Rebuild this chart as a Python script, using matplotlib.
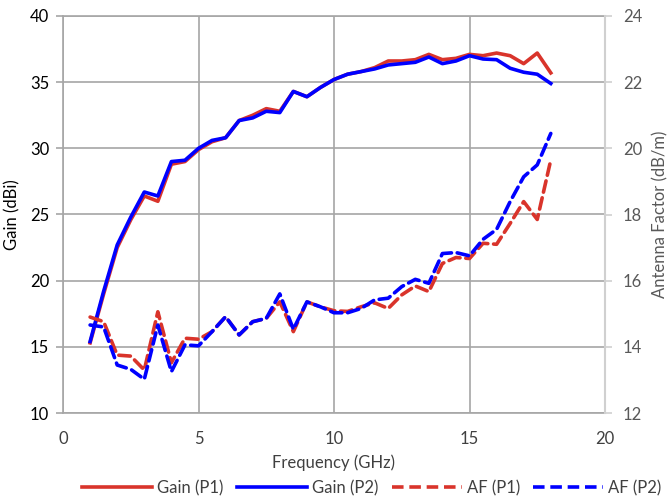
import matplotlib
matplotlib.use("Agg")
import matplotlib.pyplot as plt
from matplotlib.lines import Line2D

plt.rcParams['font.family'] = ['Lato', 'DejaVu Sans']

freq = [1, 1.5, 2, 2.5, 3, 3.5, 4, 4.5, 5, 5.5, 6, 6.5, 7, 7.5, 8, 8.5, 9, 9.5,
        10, 10.5, 11, 11.5, 12, 12.5, 13, 13.5, 14, 14.5, 15, 15.5, 16, 16.5, 17, 17.5, 18]

gain_p1 = [15.3, 19.0, 22.5, 24.6, 26.4, 26.0, 28.8, 29.0, 29.9, 30.5, 30.8, 32.1, 32.5, 33.0, 32.8, 34.3, 33.9, 34.6,
           35.2, 35.6, 35.8, 36.1, 36.6, 36.6, 36.7, 37.1, 36.7, 36.8, 37.1, 37.0, 37.2, 37.0, 36.4, 37.2, 35.7]
gain_p2 = [15.4, 19.2, 22.7, 24.8, 26.7, 26.4, 29.0, 29.1, 30.0, 30.6, 30.8, 32.1, 32.3, 32.8, 32.7, 34.3, 33.9, 34.6,
           35.2, 35.6, 35.8, 36.0, 36.3, 36.4, 36.5, 36.9, 36.4, 36.6, 37.0, 36.75, 36.7, 36.05, 35.75, 35.6, 34.9]

af_p1 = [14.9, 14.76, 13.75, 13.72, 13.3, 15.06, 13.52, 14.26, 14.23, 14.46, 14.91, 14.36, 14.76, 14.86, 15.36, 14.46, 15.36, 15.21,
         15.09, 15.07, 15.21, 15.33, 15.16, 15.57, 15.84, 15.67, 16.52, 16.7, 16.67, 17.13, 17.1, 17.73, 18.39, 17.85, 19.65]
af_p2 = [14.66, 14.6, 13.45, 13.32, 13.02, 14.66, 13.25, 14.06, 14.03, 14.46, 14.91, 14.36, 14.76, 14.86, 15.6, 14.53, 15.36, 15.21,
         15.03, 15.03, 15.16, 15.42, 15.47, 15.82, 16.04, 15.92, 16.82, 16.85, 16.75, 17.25, 17.55, 18.39, 19.14, 19.5, 20.45]

RED = '#D9342B'
BLUE = '#0000FF'
GRID = '#A6A6A6'
FS = 12

fig = plt.figure(figsize=(6.71, 5.0), dpi=100)
ax = fig.add_axes([63/671, 1 - 413/500, (605 - 63)/671, (413 - 16)/500])
ax2 = ax.twinx()

lw = 2.6
dash = (3.2, 1.6)
ax.plot(freq, gain_p1, color=RED, lw=lw, solid_joinstyle='round', zorder=3)
ax.plot(freq, gain_p2, color=BLUE, lw=lw, solid_joinstyle='round', zorder=4)
ax2.plot(freq, af_p1, color=RED, lw=lw, dashes=dash, dash_capstyle='round', zorder=3)
ax2.plot(freq, af_p2, color=BLUE, lw=lw, dashes=dash, dash_capstyle='round', zorder=4)

ax.set_xlim(0, 20)
ax.set_ylim(10, 40)
ax2.set_ylim(12, 24)
ax.set_xticks([0, 5, 10, 15, 20])
ax.set_yticks([10, 15, 20, 25, 30, 35, 40])
ax2.set_yticks([12, 14, 16, 18, 20, 22, 24])

ax.grid(True, color=GRID, lw=1.2)
ax.set_axisbelow(True)

for s in ['left', 'bottom', 'top']:
    ax.spines[s].set_color(GRID)
    ax.spines[s].set_linewidth(1.2)
ax.spines['right'].set_visible(False)
for s in ['left', 'bottom', 'top']:
    ax2.spines[s].set_visible(False)
ax2.spines['right'].set_color('#D0D0D0')
ax2.spines['right'].set_linewidth(1.5)

ax.tick_params(axis='y', length=5, color=GRID, width=1.2, labelsize=FS, labelcolor='black', pad=5)
ax.tick_params(axis='x', length=0, labelsize=FS, labelcolor='#404040', pad=13)
ax2.tick_params(axis='y', length=5, color='#D0D0D0', width=1.2, labelsize=FS, labelcolor='#595959', pad=8)

ax.set_xlabel('Frequency (GHz)', fontsize=FS, color='#404040', labelpad=5)
ax.set_ylabel('Gain (dBi)', fontsize=FS, color='black', labelpad=7)
ax2.set_ylabel('Antenna Factor (dB/m)', fontsize=FS, color='#595959', labelpad=7)

handles = [
    Line2D([], [], color=RED, lw=lw),
    Line2D([], [], color=BLUE, lw=lw),
    Line2D([], [], color=RED, lw=lw, dashes=dash),
    Line2D([], [], color=BLUE, lw=lw, dashes=dash),
]
labels = ['Gain (P1)', 'Gain (P2)', 'AF (P1)', 'AF (P2)']
fig.legend(handles, labels, loc='center', bbox_to_anchor=(372/671, 1 - 488/500), ncol=4,
           frameon=False, fontsize=FS, handlelength=4.2, columnspacing=0.8, handletextpad=0.3,
           labelcolor='#404040', borderpad=0.1)

fig.savefig('out.png', dpi=100)
